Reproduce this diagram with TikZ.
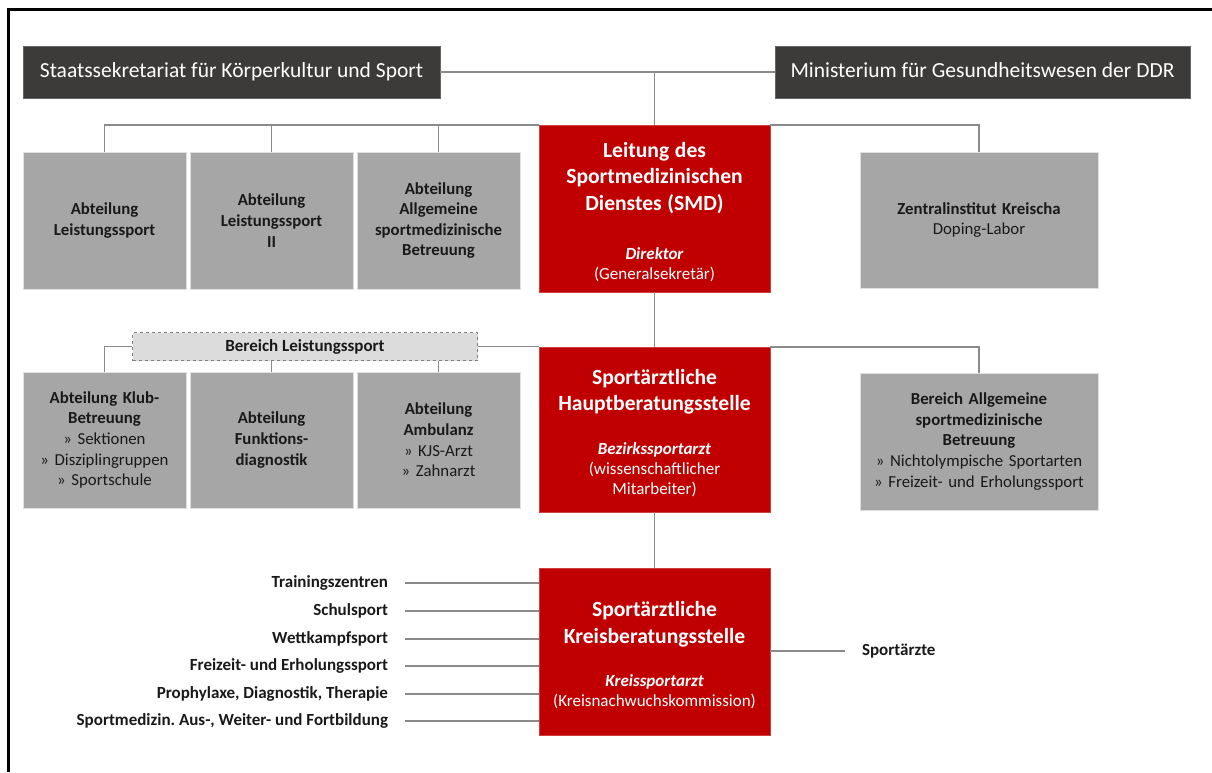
\documentclass[tikz,border=0pt]{standalone}
\usepackage{fontspec}
\setmainfont{Carlito}
\frenchspacing

\definecolor{topgray}{HTML}{3C3B3A}
\definecolor{deptgray}{HTML}{A6A6A6}
\definecolor{smdred}{HTML}{C00000}
\definecolor{linkgray}{HTML}{8A8A8A}
\definecolor{bereichgray}{HTML}{DCDCDC}

\tikzset{
  topbox/.style={fill=topgray, draw=black!60, line width=0.6pt, text=white,
    minimum height=52pt, inner sep=0pt, text height=15pt, text depth=4pt,
    font=\fontsize{21.5}{24}\selectfont},
  deptbox/.style={fill=deptgray, draw=black!12, line width=0.8pt,
    minimum width=163pt, minimum height=137pt, inner sep=0pt, text width=160pt,
    align=center, text=black!90, font=\fontsize{16.8}{20.6}\selectfont},
  sidebox/.style={deptbox, minimum width=238pt, text width=232pt},
  smdbox/.style={fill=smdred, draw=smdred!75!white, line width=0.6pt,
    minimum width=231pt, minimum height=167pt, inner sep=0pt, text width=228pt,
    align=center, text=white, font=\fontsize{17}{20}\selectfont},
  bereichbox/.style={fill=bereichgray, draw=black!50, dashed, line width=0.8pt,
    minimum width=345pt, minimum height=28pt, inner sep=0pt,
    font=\bfseries\fontsize{17}{20}\selectfont, text=black!90},
  sidelabel/.style={inner sep=0pt, outer xsep=17pt, text=black!90,
    font=\bfseries\fontsize{17}{20}\selectfont},
  link/.style={draw=linkgray, line width=1.8pt},
}
\newcommand{\smdhead}[1]{{\bfseries\fontsize{21.6}{26.5}\selectfont\rule{0pt}{22pt}#1\par}}
\newcommand{\smdrole}[1]{{\bfseries\itshape #1\par}}

\begin{document}
\begin{tikzpicture}[x=1pt, y=-1pt]
    \useasboundingbox (0,0) rectangle (1212,772);
    % frame
    \draw[line width=3pt] (8,772) -- (8,9) -- (1212,9);

    % top level
    \node[topbox, minimum width=417pt] (staats) at (231.5,72) {Staatssekretariat für Körperkultur und Sport};
    \node[topbox, minimum width=415pt] (minist) at (982.5,72) {Ministerium für Gesundheitswesen der DDR};

    % main column
    \node[smdbox] (leitung) at (654.5,208.5) {\smdhead{Leitung des\\Sportmedizinischen\\Dienstes (SMD)}\vspace{29pt}\smdrole{Direktor}(Generalsekretär)\par};
    \node[smdbox, minimum height=165pt] (haupt) at (654.5,429.5) {\smdhead{Sportärztliche\\Hauptberatungsstelle}\vspace{24pt}\smdrole{Bezirkssportarzt}(wissenschaftlicher\\Mitarbeiter)\par};
    \node[smdbox] (kreis) at (654.5,651.5) {\smdhead{Sportärztliche\\Kreisberatungsstelle}\vspace{23pt}\smdrole{Kreissportarzt}(Kreisnachwuchskommission)\par};

    % first row
    \node[deptbox] (abtls) at (104.5,220.5) {\textbf{Abteilung\\Leistungssport}};
    \node[deptbox] (abtlstwo) at (271.5,220.5) {\textbf{Abteilung\\Leistungssport\\II}};
    \node[deptbox] (abtallg) at (438.5,220.5) {\textbf{Abteilung\\Allgemeine\\sportmedizinische\\Betreuung}};
    \node[sidebox, minimum height=136pt] (zentral) at (979,220) {\textbf{Zentralinstitut Kreischa}\\Doping-Labor};

    % second row
    \node[bereichbox] (bereichls) at (305,346.5) {Bereich Leistungssport};
    \node[deptbox, minimum height=136pt] (klub) at (104.5,440) {\textbf{Abteilung Klub-\\Betreuung}\\» Sektionen\\» Disziplingruppen\\» Sportschule};
    \node[deptbox, minimum height=136pt] (funktion) at (271.5,440) {\textbf{Abteilung\\Funktions-\\diagnostik}\\[20.6pt]};
    \node[deptbox, minimum height=136pt] (ambulanz) at (438.5,440) {\textbf{Abteilung\\Ambulanz}\\» KJS-Arzt\\» Zahnarzt};
    \node[sidebox, minimum height=137pt] (bereichallg) at (979,441.5) {\textbf{Bereich Allgemeine\\sportmedizinische\\Betreuung}\\» Nichtolympische Sportarten\\» Freizeit- und Erholungssport};

    % third row
    \node[sidelabel, anchor=east] (training) at (405,583) {Trainingszentren};
    \node[sidelabel, anchor=east] (schul) at (405,611) {Schulsport};
    \node[sidelabel, anchor=east] (wettkampf) at (405,639) {Wettkampfsport};
    \node[sidelabel, anchor=east] (freizeit) at (405,666) {Freizeit- und Erholungssport};
    \node[sidelabel, anchor=east] (prophylaxe) at (405,694) {Prophylaxe, Diagnostik, Therapie};
    \node[sidelabel, anchor=east] (ausbildung) at (405,721) {Sportmedizin. Aus-, Weiter- und Fortbildung};
    \node[sidelabel, anchor=west] (aerzte) at (845,651) {Sportärzte};

    % connectors
    \draw[link] (staats) -- (minist);
    \draw[link] (leitung.north) -- (leitung.north |- staats.east);
    \draw[link] (abtls.north) -- (abtls.north |- leitung.north) -- (leitung.north west);
    \draw[link] (abtlstwo.north) -- (abtlstwo.north |- leitung.north);
    \draw[link] (abtallg.north) -- (abtallg.north |- leitung.north);
    \draw[link] (leitung.north east) -| (zentral.north);
    \draw[link] (leitung) -- (haupt);
    \draw[link] (klub.north) |- (bereichls.west);
    \draw[link] (funktion.north) -- (funktion.north |- bereichls.south);
    \draw[link] (ambulanz.north) -- (ambulanz.north |- bereichls.south);
    \draw[link] (bereichls.east) -- (haupt.west |- bereichls.east);
    \draw[link] (haupt.north east) -| (bereichallg.north);
    \draw[link] (haupt) -- (kreis);
    \draw[link] (training) -- (training -| kreis.west);
    \draw[link] (schul) -- (schul -| kreis.west);
    \draw[link] (wettkampf) -- (wettkampf -| kreis.west);
    \draw[link] (freizeit) -- (freizeit -| kreis.west);
    \draw[link] (prophylaxe) -- (prophylaxe -| kreis.west);
    \draw[link] (ausbildung) -- (ausbildung -| kreis.west);
    \draw[link] (kreis.east |- aerzte) -- (aerzte);
\end{tikzpicture}
\end{document}
